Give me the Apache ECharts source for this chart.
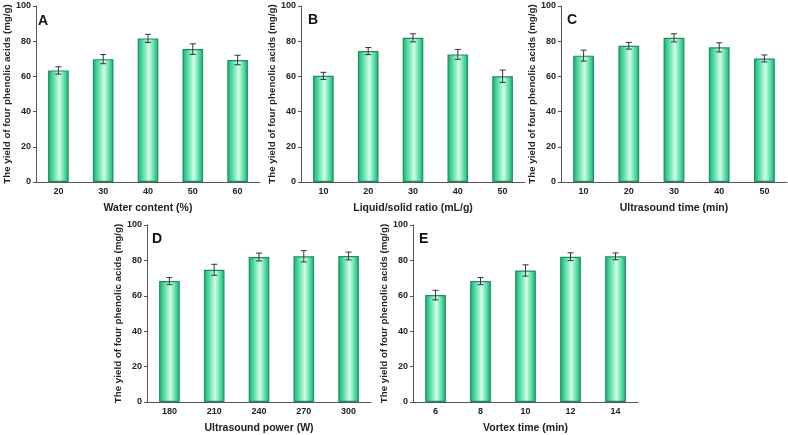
<!DOCTYPE html>
<html>
	<head>
		<meta charset="utf-8" />
		<title>yield of four phenolic acids</title>
		<script src="https://cdn.jsdelivr.net/npm/echarts@6/dist/echarts.min.js"></script>
		<style>
			body { margin: 0; background: #fff; }
			#main { width: 788px; height: 435px; }
		</style>
	</head>
	<body>
		<div id="main"></div>
		<script type="text/javascript">
			// 各单因素实验数据 (mg/g)
			var catsA = ['20', '30', '40', '50', '60'];
			var valsA = [63.4, 69.8, 81.6, 75.5, 69.3];
			var errA = [2.1, 2.6, 2.3, 3.0, 2.7];

			var catsB = ['10', '20', '30', '40', '50'];
			var valsB = [60.3, 74.4, 81.9, 72.5, 60.1];
			var errB = [2.0, 2.0, 2.3, 2.8, 3.5];

			var catsC = ['10', '20', '30', '40', '50'];
			var valsC = [71.8, 77.4, 81.9, 76.5, 70.2];
			var errC = [3.1, 1.9, 2.3, 2.6, 2.0];

			var catsD = ['180', '210', '240', '270', '300'];
			var valsD = [68.3, 74.7, 81.9, 82.3, 82.5];
			var errD = [2.0, 3.1, 2.2, 3.2, 2.2];

			var catsE = ['6', '8', '10', '12', '14'];
			var valsE = [60.4, 68.3, 74.3, 82.1, 82.3];
			var errE = [2.7, 2.0, 3.2, 2.2, 1.9];

			var yName = 'The yield of four phenolic acids (mg/g)';

			var panels = [
				{ tag: 'A', xName: 'Water content (%)', cats: catsA, vals: valsA, errs: errA,
				  grid: { left: 36, top: 6, width: 224, height: 176 }, tagPos: [38, 14] },
				{ tag: 'B', xName: 'Liquid/solid ratio (mL/g)', cats: catsB, vals: valsB, errs: errB,
				  grid: { left: 301, top: 6, width: 224, height: 176 }, tagPos: [308, 13] },
				{ tag: 'C', xName: 'Ultrasound time (min)', cats: catsC, vals: valsC, errs: errC,
				  grid: { left: 561, top: 6, width: 226, height: 176 }, tagPos: [567, 13] },
				{ tag: 'D', xName: 'Ultrasound power (W)', cats: catsD, vals: valsD, errs: errD,
				  grid: { left: 147, top: 225, width: 224, height: 178 }, tagPos: [152, 232] },
				{ tag: 'E', xName: 'Vortex time (min)', cats: catsE, vals: valsE, errs: errE,
				  grid: { left: 413, top: 225, width: 225, height: 178 }, tagPos: [419, 232] }
			];

			var axisColor = '#555';
			var textColor = '#222';
			var fontFam = '"Liberation Sans", Arial, sans-serif';

			var barColor = {
				type: 'linear', x: 0, y: 0, x2: 1, y2: 0,
				colorStops: [
					{ offset: 0, color: '#24a872' },
					{ offset: 0.18, color: '#3dd497' },
					{ offset: 0.55, color: '#d2fce8' },
					{ offset: 0.85, color: '#3dd497' },
					{ offset: 1, color: '#24a872' }
				]
			};

			var option = {
				backgroundColor: '#fff',
				animation: false,
				title: [],
				grid: [],
				xAxis: [],
				yAxis: [],
				series: []
			};

			panels.forEach(function (p, i) {
				option.grid.push(p.grid);
				option.title.push({
					text: p.tag, left: p.tagPos[0], top: p.tagPos[1], padding: 0,
					textStyle: { fontSize: 14, fontWeight: 'bold', color: '#111', fontFamily: fontFam }
				});
				option.xAxis.push({
					type: 'category', gridIndex: i, data: p.cats,
					name: p.xName, nameLocation: 'middle', nameGap: 21,
					nameTextStyle: { fontSize: 10.5, fontWeight: 'bold', color: textColor, fontFamily: fontFam },
					axisLine: { lineStyle: { color: axisColor, width: 1 } },
					axisTick: { alignWithLabel: true, length: 3, lineStyle: { color: axisColor } },
					axisLabel: { fontSize: 9, fontWeight: 'bold', color: textColor, margin: 5, fontFamily: fontFam }
				});
				option.yAxis.push({
					type: 'value', gridIndex: i, min: 0, max: 100, interval: 20,
					name: yName, nameLocation: 'middle', nameGap: 22,
					nameTextStyle: { fontSize: 9.8, fontWeight: 'bold', color: textColor, fontFamily: fontFam },
					axisLine: { show: true, lineStyle: { color: axisColor, width: 1 } },
					axisTick: { show: true, length: 3, lineStyle: { color: axisColor } },
					axisLabel: { fontSize: 9, fontWeight: 'bold', color: textColor, margin: 5, fontFamily: fontFam },
					splitLine: { show: false }
				});
				option.series.push({
					type: 'bar', xAxisIndex: i, yAxisIndex: i,
					data: p.vals, barWidth: '46%',
					itemStyle: { color: barColor, borderColor: '#1f8f60', borderWidth: 1.2 }
				});
				var errData = p.vals.map(function (v, k) { return [k, v, p.errs[k]]; });
				option.series.push({
					type: 'custom', xAxisIndex: i, yAxisIndex: i, z: 10,
					data: errData,
					renderItem: function (params, api) {
						var x = api.value(0);
						var v = api.value(1);
						var e = api.value(2);
						var top = api.coord([x, v + e]);
						var bot = api.coord([x, v - e]);
						var cap = 3;
						var st = { stroke: '#333', lineWidth: 1 };
						return {
							type: 'group',
							children: [
								{ type: 'line', shape: { x1: top[0], y1: top[1], x2: bot[0], y2: bot[1] }, style: st },
								{ type: 'line', shape: { x1: top[0] - cap, y1: top[1], x2: top[0] + cap, y2: top[1] }, style: st },
								{ type: 'line', shape: { x1: bot[0] - cap, y1: bot[1], x2: bot[0] + cap, y2: bot[1] }, style: st }
							]
						};
					}
				});
			});

			var myChart = echarts.init(document.getElementById('main'));
			myChart.setOption(option);
		</script>
	</body>
</html>
